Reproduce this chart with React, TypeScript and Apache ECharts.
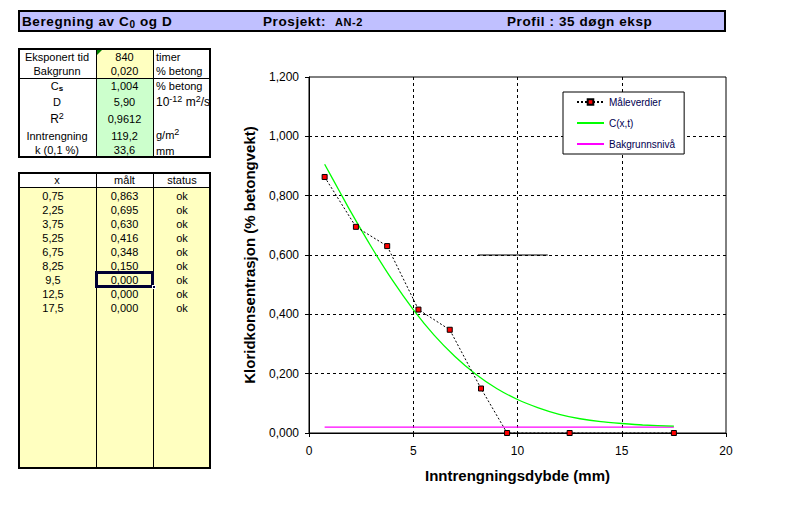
import React, { useEffect, useRef } from "react";
import * as echarts from "echarts";

// ---- chart data ----
const measuredX = [0.75, 2.25, 3.75, 5.25, 6.75, 8.25, 9.5, 12.5, 17.5];
const measuredY = [0.863, 0.695, 0.63, 0.416, 0.348, 0.15, 0, 0, 0];
const modelX = [0.75, 1.5, 2, 3, 4, 5, 6, 7, 8, 9, 10, 11, 12, 13, 14, 15, 16, 17.5];
const modelY = [0.906, 0.81, 0.746, 0.626, 0.515, 0.416, 0.33, 0.258, 0.198, 0.15, 0.113, 0.085, 0.063, 0.048, 0.038, 0.032, 0.027, 0.023];
const backgroundX = [0.75, 17.5];
const backgroundY = [0.02, 0.02];
const strayX = [8.1, 11.45];
const strayY = [0.6, 0.6];
const seriesNames = ["Måleverdier", "C(x,t)", "Bakgrunnsnivå"];

// ---- table data ----
const xValues = ["0,75", "2,25", "3,75", "5,25", "6,75", "8,25", "9,5", "12,5", "17,5"];
const maltValues = ["0,863", "0,695", "0,630", "0,416", "0,348", "0,150", "0,000", "0,000", "0,000"];
const statusValues = ["ok", "ok", "ok", "ok", "ok", "ok", "ok", "ok", "ok"];
const paramValues = ["840", "0,020", "1,004", "5,90", "0,9612", "119,2", "33,6"];
const paramRowCenters = [57, 71, 86, 102, 119, 136, 150];

const FONT = "'Liberation Sans', Arial, sans-serif";

const zip = (xs: number[], ys: number[]) => xs.map((x, i) => [x, ys[i]]);
const fmt3 = (v: number) => v.toFixed(3).replace(".", ",");

function Cell(props: { left: number; width: number; cy: number; align?: "left" | "center"; pad?: number; children: React.ReactNode }) {
  const { left, width, cy, align = "center", pad = 0, children } = props;
  return (
    <div
      style={{
        position: "absolute",
        left,
        width,
        top: cy - 7,
        height: 14,
        lineHeight: "14px",
        textAlign: align,
        paddingLeft: pad,
        boxSizing: "border-box",
        whiteSpace: "nowrap",
        fontSize: 11,
        color: "#000",
        overflow: "visible",
      }}
    >
      {children}
    </div>
  );
}

function Box(props: { left: number; top: number; width: number; height: number; style?: React.CSSProperties }) {
  const { left, top, width, height, style } = props;
  return <div style={{ position: "absolute", left, top, width, height, boxSizing: "border-box", ...style }} />;
}

const supStyle: React.CSSProperties = { fontSize: 9, verticalAlign: "4px", lineHeight: "9px" };

function Chart() {
  const ref = useRef<HTMLDivElement>(null);
  useEffect(() => {
    if (!ref.current) return;
    const chart = echarts.init(ref.current, undefined, { renderer: "svg" });
    const axisCommon = {
      axisLine: { show: true, lineStyle: { color: "#000", width: 1 } },
      axisTick: { show: true, length: 4, lineStyle: { color: "#000" } },
      splitLine: { show: true, showMinLine: false, showMaxLine: false, lineStyle: { color: "#000", type: [3, 3], width: 1 } },
      nameLocation: "middle" as const,
      nameTextStyle: { fontWeight: "bold" as const, fontSize: 15, color: "#000", fontFamily: FONT },
    };
    const hiddenSymbol = { color: "transparent", borderColor: "transparent", borderWidth: 0, opacity: 0 };
    chart.setOption({
      animation: false,
      textStyle: { fontFamily: FONT },
      grid: { left: 89, top: 37, width: 417, height: 356, show: true, borderColor: "#000", borderWidth: 1, backgroundColor: "transparent" },
      legend: {
        data: [
          { name: seriesNames[0] },
          { name: seriesNames[1], itemStyle: hiddenSymbol },
          { name: seriesNames[2], itemStyle: hiddenSymbol },
        ],
        orient: "vertical",
        left: 343,
        top: 52,
        backgroundColor: "#fff",
        borderColor: "#000",
        borderWidth: 1,
        borderRadius: 0,
        padding: [5, 9, 5, 13],
        itemGap: 11,
        itemWidth: 27,
        itemHeight: 7,
        textStyle: { fontSize: 10, color: "#000050", fontFamily: FONT },
      },
      xAxis: {
        type: "value",
        min: 0,
        max: 20,
        interval: 5,
        name: "Inntrengningsdybde (mm)",
        nameGap: 35,
        ...axisCommon,
        axisLabel: { color: "#000", fontSize: 12, margin: 12, fontFamily: FONT },
      },
      yAxis: {
        type: "value",
        min: 0,
        max: 1.2,
        interval: 0.2,
        name: "Kloridkonsentrasjon (% betongvekt)",
        nameGap: 52,
        ...axisCommon,
        axisLabel: { color: "#000", fontSize: 12, margin: 10, fontFamily: FONT, formatter: (v: number) => fmt3(v) },
      },
      series: [
        {
          name: seriesNames[0],
          type: "line",
          data: zip(measuredX, measuredY),
          symbol: "rect",
          symbolSize: 5,
          clip: false,
          z: 5,
          itemStyle: { color: "#ff0000", borderColor: "#000", borderWidth: 1 },
          lineStyle: { color: "#000", width: 1, type: [2, 2] },
        },
        {
          name: seriesNames[1],
          type: "line",
          data: zip(modelX, modelY),
          symbol: "none",
          smooth: 0.2,
          itemStyle: { color: "#00ff00" },
          lineStyle: { color: "#00ff00", width: 1.3 },
          z: 4,
        },
        {
          name: seriesNames[2],
          type: "line",
          data: zip(backgroundX, backgroundY),
          symbol: "none",
          itemStyle: { color: "#ff00ff" },
          lineStyle: { color: "#ff00ff", width: 1.3 },
          z: 3,
        },
        {
          name: "stray",
          type: "line",
          data: zip(strayX, strayY),
          symbol: "none",
          silent: true,
          itemStyle: { color: "#000" },
          lineStyle: { color: "#000", width: 1.2 },
          z: 3,
        },
      ],
    });
    return () => chart.dispose();
  }, []);
  return <div ref={ref} style={{ position: "absolute", left: 220, top: 40, width: 568, height: 486 }} />;
}

export default function App() {
  const rowY = (i: number) => 196 + 14 * i;
  const headerText: React.CSSProperties = { position: "absolute", top: 2, whiteSpace: "nowrap", letterSpacing: "0.6px" };
  return (
    <div style={{ position: "absolute", left: 0, top: 0, width: 788, height: 526, background: "#fff", overflow: "hidden", fontFamily: FONT }}>
      {/* header bar */}
      <div
        style={{
          position: "absolute",
          left: 18,
          top: 10,
          width: 708,
          height: 22,
          background: "#C0C0FF",
          border: "2px solid #000",
          boxSizing: "border-box",
          fontWeight: "bold",
          fontSize: 13.5,
          lineHeight: "16px",
          color: "#000",
        }}
      >
        <span style={{ ...headerText, left: 2 }}>
          Beregning av C<sub style={{ fontSize: 10, verticalAlign: "-2px", lineHeight: "10px" }}>0</sub> og D
        </span>
        <span style={{ ...headerText, left: 243 }}>
          Prosjekt:&nbsp;&nbsp;<span style={{ fontSize: 11 }}>AN-2</span>
        </span>
        <span style={{ ...headerText, left: 487 }}>Profil : 35 døgn eksp</span>
      </div>

      {/* parameter table */}
      <Box left={96} top={50} width={57} height={28} style={{ background: "#FFFFC0" }} />
      <Box left={96} top={79} width={57} height={77} style={{ background: "#CCFFCC" }} />
      <Box left={96} top={48} width={1} height={110} style={{ background: "#000" }} />
      <Box left={153} top={48} width={1} height={110} style={{ background: "#000" }} />
      <Box left={18} top={78} width={193} height={1} style={{ background: "#000" }} />
      <div style={{ position: "absolute", left: 97, top: 50, width: 0, height: 0, borderTop: "5px solid #008000", borderRight: "5px solid transparent" }} />
      <Box left={18} top={48} width={193} height={110} style={{ border: "2px solid #000" }} />
      <Cell left={18} width={78} cy={paramRowCenters[0]}>Eksponert tid</Cell>
      <Cell left={18} width={78} cy={paramRowCenters[1]}>Bakgrunn</Cell>
      <Cell left={18} width={78} cy={paramRowCenters[2]}>
        C<sub style={{ fontSize: 8, fontWeight: "bold", verticalAlign: "-1px", lineHeight: "8px" }}>s</sub>
      </Cell>
      <Cell left={18} width={78} cy={paramRowCenters[3]}>D</Cell>
      <Cell left={18} width={78} cy={paramRowCenters[4]}>
        <span style={{ fontSize: 12 }}>R</span>
        <sup style={supStyle}>2</sup>
      </Cell>
      <Cell left={18} width={78} cy={paramRowCenters[5]}>Inntrengning</Cell>
      <Cell left={18} width={78} cy={paramRowCenters[6]}>k (0,1 %)</Cell>
      {paramValues.map((v, i) => (
        <Cell key={"pv" + i} left={96} width={57} cy={paramRowCenters[i]}>
          {v}
        </Cell>
      ))}
      <Cell left={153} width={58} cy={paramRowCenters[0]} align="left" pad={3}>timer</Cell>
      <Cell left={153} width={58} cy={paramRowCenters[1]} align="left" pad={3}>% betong</Cell>
      <Cell left={153} width={58} cy={paramRowCenters[2]} align="left" pad={3}>% betong</Cell>
      <Cell left={153} width={58} cy={paramRowCenters[3]} align="left" pad={3}>
        <span style={{ fontSize: 12 }}>10</span>
        <sup style={supStyle}>-12</sup>
        <span style={{ fontSize: 12 }}> m</span>
        <sup style={supStyle}>2</sup>
        <span style={{ fontSize: 12 }}>/s</span>
      </Cell>
      <Cell left={153} width={58} cy={135} align="left" pad={3}>
        <span style={{ fontSize: 11 }}>g/m</span>
        <sup style={supStyle}>2</sup>
      </Cell>
      <Cell left={153} width={58} cy={151} align="left" pad={3}>mm</Cell>

      {/* measurement table */}
      <Box left={18} top={188} width={193} height={280} style={{ background: "#FFFFC0" }} />
      <Box left={96} top={172} width={1} height={297} style={{ background: "#000" }} />
      <Box left={153} top={172} width={1} height={297} style={{ background: "#000" }} />
      <Box left={18} top={187} width={193} height={1} style={{ background: "#000" }} />
      <Box left={18} top={172} width={193} height={297} style={{ border: "2px solid #000" }} />
      <Cell left={18} width={78} cy={180}>x</Cell>
      <Cell left={96} width={57} cy={180}>målt</Cell>
      <Cell left={153} width={58} cy={180}>status</Cell>
      {xValues.map((v, i) => (
        <Cell key={"x" + i} left={18} width={70} cy={rowY(i)}>
          {v}
        </Cell>
      ))}
      {maltValues.map((v, i) => (
        <Cell key={"m" + i} left={96} width={57} cy={rowY(i)}>
          {v}
        </Cell>
      ))}
      {statusValues.map((v, i) => (
        <Cell key={"s" + i} left={153} width={58} cy={rowY(i)}>
          {v}
        </Cell>
      ))}
      {/* selected cell */}
      <Box left={95} top={271} width={59} height={17} style={{ border: "3px solid #000033" }} />
      <Box left={152} top={285} width={4} height={4} style={{ background: "#000033", border: "1px solid #fff" }} />

      <Chart />
    </div>
  );
}
